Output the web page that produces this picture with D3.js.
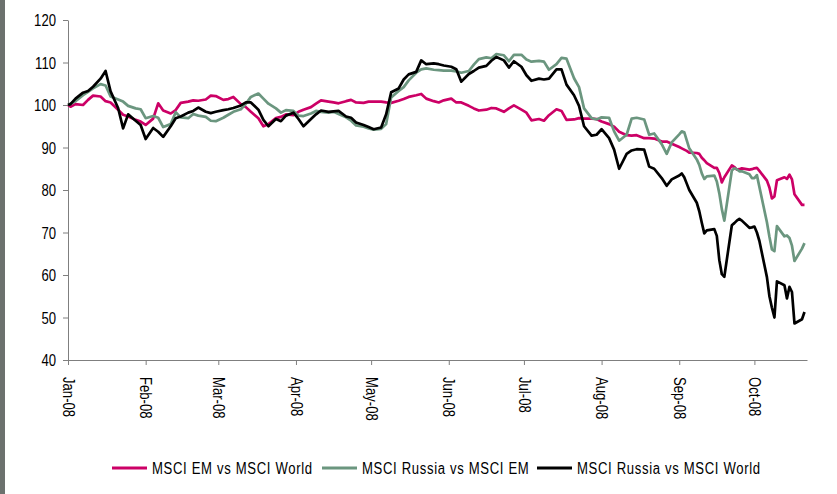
<!DOCTYPE html>
<html>
<head>
<meta charset="utf-8">
<script src="https://cdn.jsdelivr.net/npm/d3@7"></script>
<style>
  html, body { margin: 0; padding: 0; background: #fff; }
  svg { display: block; }
  text { font-family: "Liberation Sans", Arial, sans-serif; fill: #000; }
</style>
</head>
<body>
<div id="chart"></div>
<script>
// trading days sampled (Mon/Wed/Fri, every day from September)
const dates = [
  "2008-01-01","2008-01-02","2008-01-04","2008-01-07","2008-01-09","2008-01-11","2008-01-14","2008-01-16","2008-01-18","2008-01-21","2008-01-23","2008-01-25","2008-01-28","2008-01-30",
  "2008-02-01","2008-02-04","2008-02-06","2008-02-08","2008-02-11","2008-02-13","2008-02-15","2008-02-18","2008-02-20","2008-02-22","2008-02-25","2008-02-27","2008-02-29",
  "2008-03-03","2008-03-05","2008-03-07","2008-03-10","2008-03-12","2008-03-14","2008-03-17","2008-03-19","2008-03-21","2008-03-24","2008-03-26","2008-03-28","2008-03-31",
  "2008-04-02","2008-04-04","2008-04-07","2008-04-09","2008-04-11","2008-04-14","2008-04-16","2008-04-18","2008-04-21","2008-04-23","2008-04-25","2008-04-28","2008-04-30",
  "2008-05-02","2008-05-05","2008-05-07","2008-05-09","2008-05-12","2008-05-14","2008-05-16","2008-05-19","2008-05-21","2008-05-23","2008-05-26","2008-05-28","2008-05-30",
  "2008-06-02","2008-06-04","2008-06-06","2008-06-09","2008-06-11","2008-06-13","2008-06-16","2008-06-18","2008-06-20","2008-06-23","2008-06-25","2008-06-27","2008-06-30",
  "2008-07-02","2008-07-04","2008-07-07","2008-07-09","2008-07-11","2008-07-14","2008-07-16","2008-07-18","2008-07-21","2008-07-23","2008-07-25","2008-07-28","2008-07-30",
  "2008-08-01","2008-08-04","2008-08-06","2008-08-08","2008-08-11","2008-08-13","2008-08-15","2008-08-18","2008-08-20","2008-08-22","2008-08-25","2008-08-27","2008-08-29",
  "2008-09-01","2008-09-02","2008-09-03","2008-09-04","2008-09-05","2008-09-08","2008-09-09","2008-09-10","2008-09-11","2008-09-12","2008-09-15","2008-09-16","2008-09-17","2008-09-18","2008-09-19","2008-09-22","2008-09-23","2008-09-24","2008-09-25","2008-09-26","2008-09-29","2008-09-30",
  "2008-10-01","2008-10-02","2008-10-03","2008-10-06","2008-10-07","2008-10-08","2008-10-09","2008-10-10","2008-10-13","2008-10-14","2008-10-15","2008-10-16","2008-10-17","2008-10-20","2008-10-21"
];

const emVsWorld = [
  100, 99.6, 100.2, 100.0, 101.2, 102.2, 102.0, 100.9, 100.6, 98.9, 97.7, 97.3, 96.5, 96.1,
  95.3, 96.8, 100.4, 98.7, 98.0, 98.8, 100.5, 100.8, 101.1, 101.0, 101.3, 102.2, 102.1,
  101.2, 101.4, 101.9, 100.2, 99.5, 98.4, 96.9, 95.0, 95.5, 96.9, 97.2, 97.8, 97.6,
  98.4, 98.9, 99.5, 100.3, 101.1, 100.8, 100.6, 100.4, 100.9, 101.2, 100.6, 100.5, 100.8,
  100.8, 100.8, 100.6, 100.5, 101.0, 101.4, 101.9, 102.3, 102.6, 101.5, 100.9, 100.6, 101.1,
  101.5, 100.6, 100.6, 99.8, 99.2, 98.7, 98.9, 99.3, 99.2, 98.4, 99.2, 99.9, 98.9,
  98.2, 96.4, 96.7, 96.3, 97.6, 99.0, 98.6, 96.5, 96.6, 96.9, 96.8, 96.8, 96.7,
  96.1, 95.5, 94.9, 93.7, 92.9, 92.8, 92.9, 92.2, 92.2, 92.1, 91.4, 91.4, 90.9,
  90.1, 89.8, 89.5, 89.2, 88.8, 88.7, 88.5, 87.6, 87.0, 86.3, 85.2, 85.2, 84.0, 81.8, 83.0, 85.8, 85.4, 84.8, 84.9, 85.1, 84.8, 84.9,
  85.1, 85.2, 84.5, 82.2, 80.6, 78.0, 78.5, 82.3, 83.0, 82.6, 83.6, 82.5, 79.0, 76.5, 76.5
];

const russiaVsEm = [
  100, 100.3, 100.9, 102.3, 103.1, 103.9, 104.9, 104.6, 102.0, 101.3, 100.8, 99.8, 99.2, 99.0,
  96.9, 97.4, 97.0, 94.8, 95.5, 98.3, 97.1, 96.9, 97.9, 97.5, 97.2, 96.3, 96.2,
  97.0, 97.7, 98.4, 99.0, 100.3, 101.9, 102.7, 101.5, 100.3, 99.2, 98.2, 98.8, 98.6,
  97.5, 97.4, 98.0, 98.6, 98.4, 98.2, 98.4, 97.9, 97.1, 96.3, 95.2, 94.9, 94.5,
  94.2, 94.4, 95.5, 101.8, 103.3, 104.2, 105.8, 107.6, 108.4, 108.6, 108.3, 108.2, 108.1,
  108.1, 107.9, 107.6, 108.0, 109.5, 110.8, 111.2, 111.0, 112.0, 111.7, 110.3, 111.8, 111.8,
  110.7, 110.2, 110.4, 110.2, 108.3, 109.6, 111.1, 110.9, 106.3, 104.2, 99.2, 96.9, 96.6,
  97.1, 97.0, 93.8, 91.6, 93.0, 96.8, 97.0, 96.6, 93.0, 93.3, 90.8, 88.5, 91.2,
  93.1, 93.8, 93.6, 91.7, 89.8, 87.2, 85.9, 83.9, 82.6, 83.2, 83.4, 82.0, 79.2, 75.5, 72.8, 84.6, 85.1, 84.9, 84.4, 84.4, 83.7, 82.8,
  82.8, 83.5, 80.7, 72.4, 69.0, 66.0, 65.6, 71.5, 69.1, 69.3, 68.7, 66.9, 63.3, 66.2, 67.5
];

const russiaVsWorld = [
  100, 100.2, 101.5, 102.9, 103.3, 104.3, 106.2, 108.0, 103.2, 99.3, 94.5, 97.8, 96.3, 95.3,
  92.0, 94.6, 93.7, 92.5, 95.0, 96.9, 97.3, 98.2, 98.6, 99.4, 98.4, 98.1, 98.4,
  98.8, 99.0, 99.3, 99.9, 100.6, 100.6, 98.9, 96.5, 95.0, 96.7, 96.2, 97.5, 98.2,
  96.7, 95.0, 96.7, 97.8, 98.7, 98.4, 98.5, 98.6, 97.3, 97.0, 95.9, 95.3, 94.8,
  94.3, 94.7, 97.8, 103.0, 103.9, 106.0, 107.2, 107.8, 110.5, 109.6, 109.8, 109.6, 109.3,
  109.0, 108.4, 105.5, 107.3, 108.0, 108.8, 109.2, 110.4, 111.3, 110.5, 108.8, 110.3, 109.0,
  107.0, 105.7, 106.2, 106.0, 106.2, 108.4, 108.4, 104.8, 102.3, 99.8, 95.0, 92.8, 93.0,
  94.3, 92.2, 89.5, 85.0, 88.5, 89.3, 89.6, 89.5, 85.5, 85.0, 82.8, 81.0, 82.5,
  83.4, 83.9, 83.0, 81.5, 80.0, 77.0, 75.0, 72.3, 69.8, 70.5, 70.8, 69.2, 63.5, 60.2, 59.6, 71.7, 72.2, 72.8, 73.2, 72.8, 71.1, 71.2,
  71.4, 70.0, 68.0, 59.5, 55.0, 52.3, 50.0, 58.5, 57.6, 54.5, 57.2, 56.0, 48.6, 49.6, 51.3
];

const seriesNames = ["MSCI EM vs MSCI World", "MSCI Russia vs MSCI EM", "MSCI Russia vs MSCI World"];
const seriesColors = ["#cc0066", "#6b967f", "#000000"];
const yTicks = [40, 50, 60, 70, 80, 90, 100, 110, 120];
const monthTicks = ["2008-01-01","2008-02-01","2008-03-01","2008-04-01","2008-05-01","2008-06-01","2008-07-01","2008-08-01","2008-09-01","2008-10-01"];

const W = 837, H = 494;
const FS = 16;       // font size
const SX = 0.82;     // horizontal squeeze, the original uses a narrow face
const parse = d3.timeParse("%Y-%m-%d");
const series = [emVsWorld, russiaVsEm, russiaVsWorld].map((vals, i) => ({
  name: seriesNames[i],
  color: seriesColors[i],
  points: dates.map((d, j) => ({ date: parse(d), value: vals[j] }))
}));

const svg = d3.select("#chart").append("svg").attr("width", W).attr("height", H);

// grey strip on the left edge
svg.append("rect").attr("x", 0).attr("y", 0).attr("width", 5).attr("height", H).attr("fill", "#6c716e");

const x = d3.scaleTime()
  .domain([parse("2008-01-01"), parse("2008-10-22")])
  .range([68, 807]);
const y = d3.scaleLinear().domain([40, 120]).range([360, 20]);

const axisColor = "#7f7f7f";

// y axis
const yAxis = svg.append("g")
  .attr("transform", "translate(68,0)")
  .call(d3.axisLeft(y).tickValues(yTicks).tickSize(5).tickSizeOuter(0));
yAxis.select(".domain").attr("stroke", axisColor);
yAxis.selectAll(".tick line").attr("stroke", axisColor);
yAxis.selectAll(".tick text")
  .attr("font-size", FS).attr("font-family", null).attr("fill", "#000")
  .attr("x", -12 / SX).attr("dy", "0.36em")
  .attr("transform", `scale(${SX},1)`);

// x axis
const xAxis = svg.append("g")
  .attr("transform", "translate(0,360)")
  .call(d3.axisBottom(x).tickValues(monthTicks.map(parse)).tickFormat(d3.timeFormat("%b-%y")).tickSize(5).tickSizeOuter(0));
xAxis.select(".domain").attr("stroke", axisColor);
xAxis.selectAll(".tick line").attr("stroke", axisColor);
xAxis.selectAll(".tick text")
  .attr("font-size", FS).attr("font-family", null).attr("fill", "#000")
  .attr("text-anchor", "start")
  .attr("transform", `rotate(90) scale(${SX},1)`)
  .attr("x", 17 / SX).attr("y", 0).attr("dy", "0.36em");

// lines
const line = d3.line().x(d => x(d.date)).y(d => y(d.value));
svg.append("g").selectAll("path")
  .data(series)
  .join("path")
  .attr("d", d => line(d.points))
  .attr("fill", "none")
  .attr("stroke", d => d.color)
  .attr("stroke-width", 2.7)
  .attr("stroke-linejoin", "round");

// legend
const legendX = [112, 322, 537];
const legend = svg.append("g").attr("transform", "translate(0,468)");
const item = legend.selectAll("g").data(series).join("g")
  .attr("transform", (d, i) => `translate(${legendX[i]},0)`);
item.append("line").attr("x1", 0).attr("x2", 35).attr("y1", 0).attr("y2", 0)
  .attr("stroke", d => d.color).attr("stroke-width", 3);
item.append("text")
  .attr("transform", `translate(40,0) scale(${SX},1)`)
  .attr("dy", "0.36em")
  .attr("font-size", FS).attr("letter-spacing", 0.8)
  .text(d => d.name);
</script>
</body>
</html>
